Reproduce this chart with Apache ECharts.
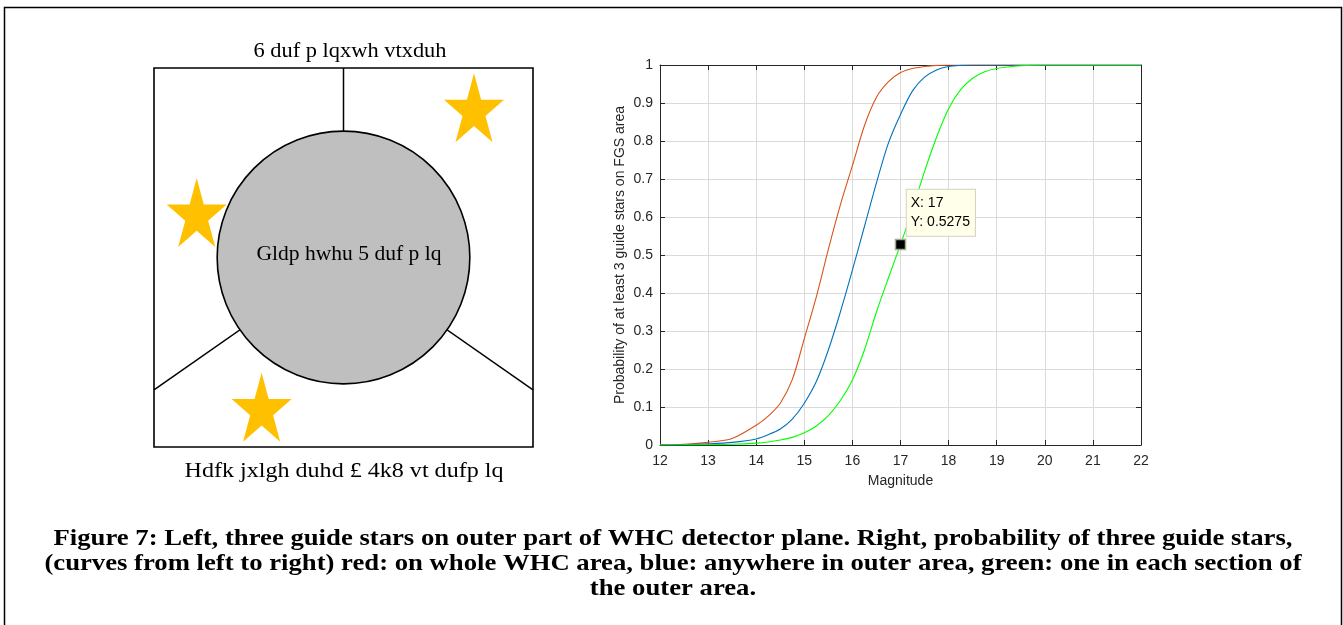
<!DOCTYPE html>
<html>
<head>
<meta charset="utf-8">
<script src="https://cdn.jsdelivr.net/npm/echarts@6/dist/echarts.min.js"></script>
<style>
html,body{margin:0;padding:0;background:#fff;}
#chart{width:1343px;height:625px;}
</style>
</head>
<body>
<div id="chart"></div>
<script>
// ---------- Data: right plot ----------
const magnitudes = [12, 12.5, 13, 13.5, 14, 14.25, 14.5, 14.75, 15, 15.25, 15.5, 15.75, 16, 16.25, 16.5, 16.75, 17, 17.25, 17.5, 17.75, 18, 18.25, 18.5, 18.75, 19, 19.5, 20, 21, 22];
const probWholeArea = [0.0003, 0.002, 0.007, 0.017, 0.052, 0.076, 0.11, 0.172, 0.28, 0.39, 0.515, 0.632, 0.735, 0.84, 0.915, 0.956, 0.98, 0.991, 0.996, 0.999, 1, 1, 1, 1, 1, 1, 1, 1, 1];
const probOuterArea = [0.0001, 0.0008, 0.003, 0.007, 0.016, 0.027, 0.042, 0.068, 0.11, 0.167, 0.25, 0.35, 0.46, 0.575, 0.69, 0.795, 0.87, 0.932, 0.968, 0.987, 0.996, 0.999, 1, 1, 1, 1, 1, 1, 1];
const probEachSection = [0, 0.0002, 0.0008, 0.002, 0.005, 0.008, 0.013, 0.02, 0.032, 0.05, 0.077, 0.117, 0.171, 0.25, 0.35, 0.44, 0.5275, 0.62, 0.72, 0.81, 0.885, 0.935, 0.965, 0.982, 0.991, 0.998, 1, 1, 1];
const xTickLabels = ['12', '13', '14', '15', '16', '17', '18', '19', '20', '21', '22'];
const yTickLabels = ['0', '0.1', '0.2', '0.3', '0.4', '0.5', '0.6', '0.7', '0.8', '0.9', '1'];
const tipPoint = [17, 0.5275];
const tipLines = ['X: 17', 'Y: 0.5275'];

// ---------- Data: left diagram (units: arcmin) ----------
const squareCorners = [[-1.5, 1.5], [1.5, -1.5]];
const circleCenter = [0, 0];
const circleRadius = 1.0;
const dividerEnds = [[0, 1.5], [-1.5, -1.048], [1.5, -1.048]];
const starCenters = [[1.033, 1.185], [-1.162, 0.356], [-0.648, -1.185]];
const topText = '6 duf p lqxwh vtxduh';
const circleText = 'Gldp hwhu 5 duf p lq';
const bottomText = 'Hdfk jxlgh duhd £ 4k8 vt dufp lq';
const captionLines = [
  'Figure 7: Left, three guide stars on outer part of WHC detector plane. Right, probability of three guide stars,',
  '(curves from left to right) red: on whole WHC area, blue: anywhere in outer area, green: one in each section of',
  'the outer area.'
];

const zip = (xs, ys) => xs.map((x, i) => [x, ys[i]]);

const measureCanvas = document.createElement('canvas').getContext('2d');
function fitScale(text, font, target) {
  measureCanvas.font = font;
  return target / measureCanvas.measureText(text).width;
}

const STAR_PATH = 'path://M100 0 L122.45 69.1 L195.1 69.1 L136.33 111.8 L158.8 180.9 L100 138.2 L41.2 180.9 L63.67 111.8 L4.9 69.1 L77.55 69.1 Z';

const diagFont = '21px "Liberation Serif"';
const capFont = 'bold 24px "Liberation Serif"';
const capScale = fitScale(captionLines[0], capFont, 1239);

const axisColor = '#262626';
const gridColor = '#dadada';

const chart = echarts.init(document.getElementById('chart'), null, {renderer: 'canvas'});

const curveStyle = (color) => ({
  type: 'line', xAxisIndex: 1, yAxisIndex: 1, smooth: 0.3,
  showSymbol: false, lineStyle: {color, width: 1.1}, itemStyle: {color}, z: 3
});

const capText = (line, y) => ({
  type: 'text', silent: true, x: 673, y, scaleX: capScale,
  style: {text: line, font: capFont, fill: '#000', textAlign: 'center', textVerticalAlign: 'middle'}
});

const option = {
  animation: false,
  backgroundColor: '#ffffff',
  grid: [
    {left: 154, top: 68, width: 379, height: 379},
    {left: 660, top: 65, width: 481, height: 380}
  ],
  xAxis: [
    {gridIndex: 0, type: 'value', min: -1.5, max: 1.5, show: false},
    {
      gridIndex: 1, type: 'value', min: 12, max: 22, interval: 1, position: 'bottom',
      name: 'Magnitude', nameLocation: 'middle', nameGap: 29,
      nameTextStyle: {color: axisColor, fontSize: 14, fontFamily: '"Liberation Sans", Arial'},
      axisLine: {show: true, onZero: false, lineStyle: {color: axisColor, width: 1}},
      axisTick: {show: true, inside: true, length: 5, lineStyle: {color: axisColor}},
      axisLabel: {color: axisColor, fontSize: 14, fontFamily: '"Liberation Sans", Arial', margin: 9,
        formatter: (v, i) => xTickLabels[i]},
      splitLine: {show: true, lineStyle: {color: gridColor, width: 1}}
    },
    {
      gridIndex: 1, type: 'value', min: 12, max: 22, interval: 1, position: 'top',
      axisLine: {show: true, onZero: false, lineStyle: {color: axisColor, width: 1}},
      axisTick: {show: true, inside: true, length: 5, lineStyle: {color: axisColor}},
      axisLabel: {show: false}, splitLine: {show: false}
    }
  ],
  yAxis: [
    {gridIndex: 0, type: 'value', min: -1.5, max: 1.5, show: false},
    {
      gridIndex: 1, type: 'value', min: 0, max: 1, interval: 0.1, position: 'left',
      name: 'Probability of at least 3 guide stars on FGS area', nameLocation: 'middle', nameGap: 33,
      nameTextStyle: {color: axisColor, fontSize: 14, fontFamily: '"Liberation Sans", Arial'},
      axisLine: {show: true, onZero: false, lineStyle: {color: axisColor, width: 1}},
      axisTick: {show: true, inside: true, length: 5, lineStyle: {color: axisColor}},
      axisLabel: {color: axisColor, fontSize: 14, fontFamily: '"Liberation Sans", Arial', margin: 7,
        formatter: (v, i) => yTickLabels[i]},
      splitLine: {show: true, lineStyle: {color: gridColor, width: 1}}
    },
    {
      gridIndex: 1, type: 'value', min: 0, max: 1, interval: 0.1, position: 'right',
      axisLine: {show: true, onZero: false, lineStyle: {color: axisColor, width: 1}},
      axisTick: {show: true, inside: true, length: 5, lineStyle: {color: axisColor}},
      axisLabel: {show: false}, splitLine: {show: false}
    }
  ],
  series: [
    // ----- left diagram -----
    {
      type: 'custom', xAxisIndex: 0, yAxisIndex: 0, z: 1, silent: true,
      data: [squareCorners[0].concat(squareCorners[1])],
      renderItem: (params, api) => {
        const p0 = api.coord([api.value(0), api.value(1)]);
        const p1 = api.coord([api.value(2), api.value(3)]);
        const c = api.coord(circleCenter);
        const children = [{
          type: 'rect',
          shape: {x: p0[0], y: p0[1], width: p1[0] - p0[0], height: p1[1] - p0[1]},
          style: {fill: 'none', stroke: '#000', lineWidth: 1.6}
        }];
        dividerEnds.forEach(e => {
          const q = api.coord(e);
          children.push({type: 'line', shape: {x1: c[0], y1: c[1], x2: q[0], y2: q[1]},
            style: {stroke: '#000', lineWidth: 1.5}});
        });
        return {type: 'group', children};
      }
    },
    {
      type: 'scatter', xAxisIndex: 0, yAxisIndex: 0, z: 2, silent: true,
      symbol: STAR_PATH, symbolSize: [60, 69], symbolKeepAspect: false,
      itemStyle: {color: '#FFC000', opacity: 1},
      data: starCenters
    },
    {
      type: 'custom', xAxisIndex: 0, yAxisIndex: 0, z: 3, silent: true,
      data: [[circleCenter[0], circleCenter[1], circleRadius]],
      renderItem: (params, api) => {
        const c = api.coord([api.value(0), api.value(1)]);
        const r = api.size([api.value(2), 0])[0];
        return {type: 'circle', shape: {cx: c[0], cy: c[1], r},
          style: {fill: '#BFBFBF', stroke: '#000', lineWidth: 1.6}};
      }
    },
    // ----- right plot -----
    Object.assign(curveStyle('#D95319'), {name: 'whole WHC area', data: zip(magnitudes, probWholeArea)}),
    Object.assign(curveStyle('#0072BD'), {name: 'anywhere in outer area', data: zip(magnitudes, probOuterArea)}),
    Object.assign(curveStyle('#00FF00'), {name: 'one in each section', data: zip(magnitudes, probEachSection)}),
    {
      type: 'scatter', xAxisIndex: 1, yAxisIndex: 1, z: 5,
      symbol: 'rect', symbolSize: 10,
      itemStyle: {color: '#000', borderColor: '#a8a890', borderWidth: 1.5, opacity: 1},
      data: [tipPoint],
      label: {
        show: true, position: [12, -49],
        formatter: () => tipLines.join('\n'),
        color: '#000', fontSize: 14, fontFamily: '"Liberation Sans", Arial', lineHeight: 19,
        backgroundColor: '#FFFFEA', borderColor: '#d2d2c0', borderWidth: 1,
        padding: [4, 5, 4, 4], align: 'left', verticalAlign: 'top'
      }
    }
  ],
  graphic: [
    {type: 'rect', silent: true, shape: {x: 4.5, y: 7.5, width: 1337, height: 700},
      style: {fill: 'none', stroke: '#000', lineWidth: 1.5}, z: 0},
    {type: 'text', silent: true, x: 350, y: 51, scaleX: fitScale(topText, diagFont, 193),
      style: {text: topText, font: diagFont, fill: '#000', textAlign: 'center', textVerticalAlign: 'middle'}},
    {type: 'text', silent: true, x: 349, y: 254, z: 10, scaleX: fitScale(circleText, diagFont, 185),
      style: {text: circleText, font: diagFont, fill: '#000', textAlign: 'center', textVerticalAlign: 'middle'}},
    {type: 'text', silent: true, x: 344, y: 471, scaleX: fitScale(bottomText, diagFont, 319),
      style: {text: bottomText, font: diagFont, fill: '#000', textAlign: 'center', textVerticalAlign: 'middle'}},
    capText(captionLines[0], 539),
    capText(captionLines[1], 564),
    capText(captionLines[2], 589)
  ]
};
chart.setOption(option);
</script>
</body>
</html>
